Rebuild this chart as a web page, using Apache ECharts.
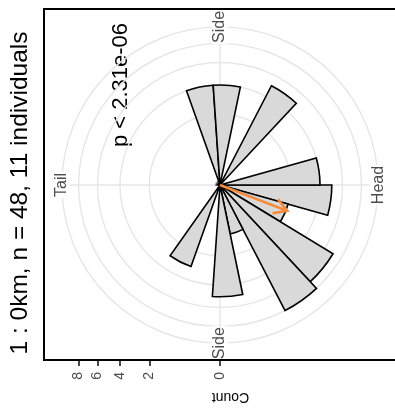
<!DOCTYPE html>
<html>
<head>
<meta charset="utf-8">
<script src="https://cdn.jsdelivr.net/npm/echarts@6/dist/echarts.min.js"></script>
<style>
  html, body { margin: 0; padding: 0; background: #fff; overflow: hidden; }
  #chart { width: 395px; height: 413px; }
</style>
</head>
<body>
<div id="chart"></div>
<script>
// Counts in 23 equal direction bins, listed clockwise starting at "Head"
const binCounts = [5, 2, 7, 8, 1, 5, 0, 3, 0, 0, 0, 0, 0, 0, 0, 0, 4, 4, 0, 5, 0, 0, 4];
// Direction names and their angle-axis positions (degrees, clockwise from Head)
const directionNames = ['Head', 'Side', 'Tail', 'Side'];
const directionAngles = [0, 90, 180, 270];
// Count axis ticks and the grid rings (counts; radius uses a square-root scale)
const countTicks = [0, 2, 4, 6, 8];
const countRings = [2, 4, 6, 8, 10];
// Mean direction (degrees) and the arrow length in count units
const meanAngle = [21];
const meanLength = [2.08];
const titleText = '1 : 0km, n = 48, 11 individuals';
const pValueText = 'p < 2.31e-06';
const countAxisName = 'Count';

// ---- layout ----
const FONT = '"Liberation Sans", Arial, Helvetica, sans-serif';
const CX = 220, CY = 185;          // polar centre
const UNIT = 50;                   // pixels per sqrt(count)
const PANEL = { left: 44, top: 9, right: 417, bottom: 360 };
const sqrtScale = v => Math.sqrt(v);
const rMax = sqrtScale(countRings[countRings.length - 1]);
const binWidth = 360 / binCounts.length;

const barData = [];
binCounts.forEach((c, i) => {
  if (c > 0) barData.push([sqrtScale(c), i * binWidth, (i + 1) * binWidth]);
});

function screenAngle(p, cs) {
  return Math.atan2(p[1] - cs.cy, p[0] - cs.cx);
}

function renderBar(params, api) {
  const cs = params.coordSys;
  const r = api.value(0);
  const p0 = api.coord([r, api.value(1)]);
  const p1 = api.coord([r, api.value(2)]);
  const rad = Math.hypot(p0[0] - cs.cx, p0[1] - cs.cy);
  let s = screenAngle(p0, cs), e = screenAngle(p1, cs);
  if (e < s) e += Math.PI * 2;
  return {
    type: 'sector',
    shape: { cx: cs.cx, cy: cs.cy, r0: 0, r: rad, startAngle: s, endAngle: e, clockwise: true },
    style: { fill: '#d9d9d9', stroke: '#000', lineWidth: 1.6, lineJoin: 'miter' }
  };
}

function renderArrow(params, api) {
  const a = api.value(1);
  const start = api.coord([0, a]);
  const end = api.coord([sqrtScale(api.value(0)), a]);
  const dir = Math.atan2(end[1] - start[1], end[0] - start[0]);
  const len = 15, spread = Math.PI / 6;
  const b1 = [end[0] - len * Math.cos(dir - spread), end[1] - len * Math.sin(dir - spread)];
  const b2 = [end[0] - len * Math.cos(dir + spread), end[1] - len * Math.sin(dir + spread)];
  const st = { stroke: '#f58a3a', lineWidth: 2.6, fill: null, lineJoin: 'miter' };
  return {
    type: 'group',
    children: [
      { type: 'polyline', shape: { points: [start, end] }, style: st },
      { type: 'polyline', shape: { points: [b1, end, b2] }, style: st }
    ]
  };
}

function renderDirectionLabel(params, api) {
  const p = api.coord([api.value(0), api.value(1)]);
  return {
    type: 'text',
    x: p[0], y: p[1],
    rotation: Math.PI / 2,
    style: {
      text: directionNames[params.dataIndex],
      font: '16px ' + FONT,
      fill: '#4d4d4d',
      align: 'center', verticalAlign: 'middle',
      backgroundColor: '#fff',
      padding: [0, 1]
    }
  };
}

const chartDom = document.getElementById('chart');
const chart = echarts.init(chartDom, null, { renderer: 'canvas' });
const viewRight = chart.getWidth();

// panel frame: top, left and bottom edges (the right edge lies past the visible area)
const frameStyle = { stroke: '#000', lineWidth: 2, lineCap: 'square' };
const frameEdges = [
  [PANEL.left, PANEL.top, viewRight, PANEL.top],
  [PANEL.left, PANEL.top, PANEL.left, PANEL.bottom],
  [PANEL.left, PANEL.bottom, viewRight, PANEL.bottom]
];

chart.setOption({
  animation: false,
  backgroundColor: '#fff',
  grid: {
    left: PANEL.left, top: PANEL.top,
    width: PANEL.right - PANEL.left, height: PANEL.bottom - PANEL.top,
    outerBoundsMode: 'none',
    containLabel: false,
    show: false
  },
  xAxis: {
    type: 'value',
    inverse: true,
    min: -(PANEL.right - CX) / UNIT,
    max: (CX - PANEL.left) / UNIT,
    axisLine: { show: false },
    splitLine: { show: false },
    axisTick: {
      show: true, inside: false, length: 6,
      lineStyle: { color: '#333', width: 1.8 },
      customValues: countTicks.map(sqrtScale)
    },
    axisLabel: {
      show: true, rotate: 90, margin: 12,
      fontSize: 14, fontFamily: FONT, color: '#4d4d4d',
      customValues: countTicks.map(sqrtScale),
      formatter: v => String(Math.round(v * v))
    },
    name: countAxisName,
    nameLocation: 'middle',
    nameRotate: 180,
    nameGap: 30,
    nameTextStyle: { fontSize: 14, fontFamily: FONT, color: '#000' }
  },
  yAxis: {
    type: 'value', show: false, min: 0, max: 1,
    axisLine: { show: false }, axisTick: { show: false },
    axisLabel: { show: false }, splitLine: { show: false }
  },
  polar: { center: [CX, CY], radius: rMax * UNIT },
  angleAxis: {
    type: 'value', min: 0, max: 360, interval: 90,
    startAngle: 0, clockwise: true,
    axisLine: { show: false },
    axisTick: { show: false },
    axisLabel: { show: false },
    splitLine: { show: true, lineStyle: { color: '#e6e6e6', width: 1.4 } }
  },
  radiusAxis: {
    type: 'value', min: 0, max: rMax,
    axisLine: { show: false },
    axisLabel: { show: false },
    axisTick: { show: false, customValues: countRings.map(sqrtScale) },
    splitLine: { show: true, lineStyle: { color: '#e6e6e6', width: 1.4 } }
  },
  series: [
    {
      type: 'custom', coordinateSystem: 'polar', z: 2,
      renderItem: renderBar, data: barData
    },
    {
      type: 'custom', coordinateSystem: 'polar', z: 3,
      renderItem: renderArrow,
      data: meanAngle.map((a, i) => [meanLength[i], a])
    },
    {
      type: 'custom', coordinateSystem: 'polar', z: 1,
      renderItem: renderDirectionLabel,
      data: directionAngles.map(a => [rMax, a])
    }
  ],
  graphic: frameEdges.map(e => ({
    type: 'line', z: 10, silent: true,
    shape: { x1: e[0], y1: e[1], x2: e[2], y2: e[3] },
    style: frameStyle
  })).concat([
    {
      type: 'text', x: 20, y: 193, rotation: Math.PI / 2,
      style: { text: titleText, font: '24.5px ' + FONT, fill: '#000', align: 'center', verticalAlign: 'middle' }
    },
    {
      type: 'text', x: 121, y: 85, rotation: Math.PI / 2,
      style: { text: pValueText, font: '22px ' + FONT, fill: '#000', align: 'center', verticalAlign: 'middle' }
    }
  ])
});
</script>
</body>
</html>
